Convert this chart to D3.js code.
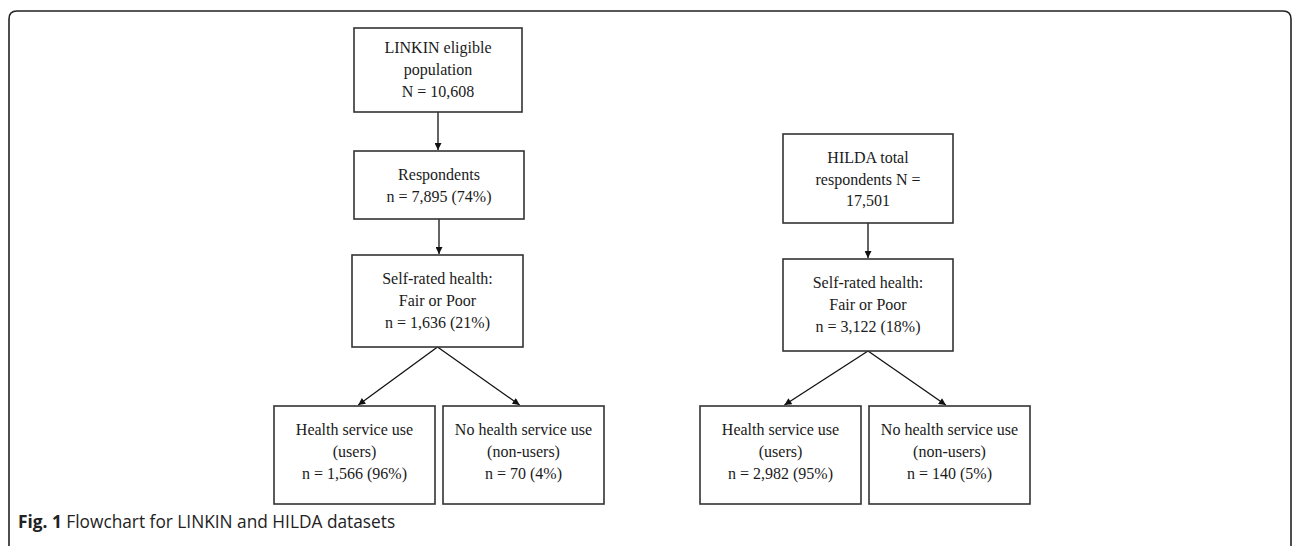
<!DOCTYPE html>
<html>
<head>
<meta charset="utf-8">
<script src="https://d3js.org/d3.v7.min.js"></script>
<style>
  html, body { margin: 0; padding: 0; background: #fff; }
  svg { display: block; }
</style>
</head>
<body>
<div id="chart"></div>
<script>
// ---- data ----
var linkinLabels = [
    ["LINKIN eligible", "population", "N = 10,608"],
    ["Respondents", "n = 7,895 (74%)"],
    ["Self-rated health:", "Fair or Poor", "n = 1,636 (21%)"],
    ["Health service use", "(users)", "n = 1,566 (96%)"],
    ["No health service use", "(non-users)", "n = 70 (4%)"]
];
var hildaLabels = [
    ["HILDA total", "respondents N =", "17,501"],
    ["Self-rated health:", "Fair or Poor", "n = 3,122 (18%)"],
    ["Health service use", "(users)", "n = 2,982 (95%)"],
    ["No health service use", "(non-users)", "n = 140 (5%)"]
];
// parent -> child index pairs
var linkinLinks = [[0, 1], [1, 2], [2, 3], [2, 4]];
var hildaLinks = [[0, 1], [1, 2], [1, 3]];
var captionBold = "Fig. 1";
var captionText = "Flowchart for LINKIN and HILDA datasets";

// ---- layout (geometry kept apart from the data) ----
var W = 1292, H = 546;
var linkinBoxes = [
    {x: 354, y: 28, w: 168, h: 84, dy: 0},
    {x: 354, y: 151, w: 170, h: 68, dy: 1},
    {x: 352, y: 255, w: 171, h: 92, dy: 0},
    {x: 274, y: 406, w: 161, h: 98, dy: -3},
    {x: 443, y: 406, w: 161, h: 98, dy: -3}
];
var hildaBoxes = [
    {x: 783, y: 134, w: 170, h: 89, dy: 1},
    {x: 783, y: 259, w: 170, h: 92, dy: 0},
    {x: 700, y: 406, w: 161, h: 98, dy: -3},
    {x: 869, y: 406, w: 161, h: 98, dy: -3}
];
var lineGap = 21.7;

var svg = d3.select("#chart").append("svg")
    .attr("width", W)
    .attr("height", H);

svg.append("defs").append("marker")
    .attr("id", "arrow")
    .attr("viewBox", "0 0 10 10")
    .attr("refX", 10)
    .attr("refY", 5)
    .attr("markerWidth", 8)
    .attr("markerHeight", 7)
    .attr("markerUnits", "userSpaceOnUse")
    .attr("orient", "auto")
    .append("path")
    .attr("d", "M0,0 L10,5 L0,10 z")
    .attr("fill", "#111");

// outer frame, rounded top corners, open at the bottom
var r = 8;
svg.append("path")
    .attr("d", "M9," + H + " L9," + (11 + r) + " Q9,11 " + (9 + r) + ",11 L" + (1291 - r) + ",11 Q1291,11 1291," + (11 + r) + " L1291," + H)
    .attr("fill", "none")
    .attr("stroke", "#222")
    .attr("stroke-width", 1.6);

function drawChart(labels, boxes, links) {
    var g = svg.append("g");

    var nodes = labels.map(function(l, i) {
        return {lines: l, b: boxes[i]};
    });

    // connectors
    g.selectAll(".link")
        .data(links)
        .enter().append("line")
        .attr("class", "link")
        .attr("x1", function(d) { var b = boxes[d[0]]; return b.x + b.w / 2; })
        .attr("y1", function(d) { var b = boxes[d[0]]; return b.y + b.h; })
        .attr("x2", function(d) {
            var p = boxes[d[0]], c = boxes[d[1]];
            var pc = p.x + p.w / 2, cc = c.x + c.w / 2;
            if (Math.abs(pc - cc) < 10) return pc;
            return cc + (pc - cc) * 0.045;
        })
        .attr("y2", function(d) { return boxes[d[1]].y - 1; })
        .attr("stroke", "#111")
        .attr("stroke-width", 1.3)
        .attr("marker-end", "url(#arrow)");

    var box = g.selectAll(".box")
        .data(nodes)
        .enter().append("g")
        .attr("class", "box")
        .attr("transform", function(d) { return "translate(" + d.b.x + "," + d.b.y + ")"; });

    box.append("rect")
        .attr("width", function(d) { return d.b.w; })
        .attr("height", function(d) { return d.b.h; })
        .attr("fill", "#fff")
        .attr("stroke", "#333")
        .attr("stroke-width", 1.6);

    box.each(function(d) {
        var n = d.lines.length;
        var t = d3.select(this).append("text")
            .attr("text-anchor", "middle")
            .style("font-family", "'Liberation Serif', 'Times New Roman', serif")
            .style("font-size", "16px")
            .attr("fill", "#1a1a1a");
        d.lines.forEach(function(line, i) {
            t.append("tspan")
                .attr("x", d.b.w / 2)
                .attr("y", d.b.h / 2 + 5 + d.b.dy + (i - (n - 1) / 2) * lineGap)
                .text(line);
        });
    });
}

drawChart(linkinLabels, linkinBoxes, linkinLinks);
drawChart(hildaLabels, hildaBoxes, hildaLinks);

var cap = svg.append("text")
    .attr("x", 18)
    .attr("y", 528)
    .style("font-family", "'Open Sans', sans-serif")
    .style("font-size", "17.3px")
    .attr("fill", "#222");
cap.append("tspan").style("font-weight", "bold").text(captionBold);
cap.append("tspan").text(" " + captionText);
</script>
</body>
</html>
